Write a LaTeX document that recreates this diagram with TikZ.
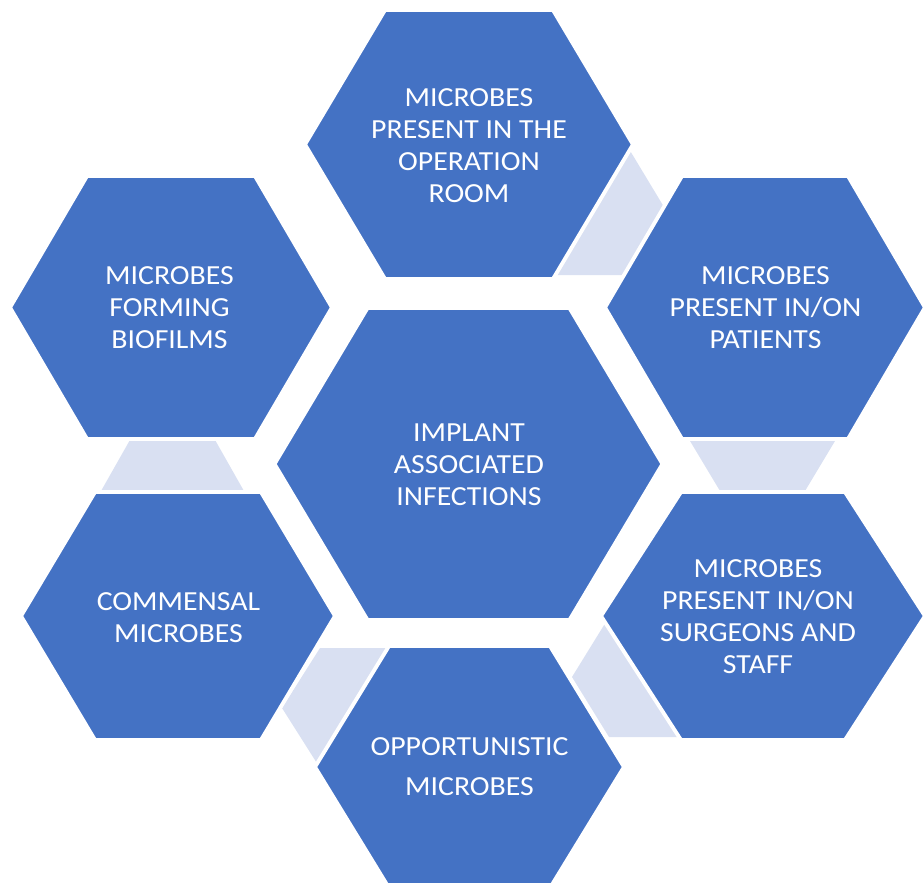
\documentclass[tikz,border=0pt]{standalone}
\usepackage{fontspec}
\setmainfont{Carlito}[FakeStretch=1.08]
\usepackage{xcolor}
\usepackage{tikz}

\definecolor{hexblue}{HTML}{4472C4}
\definecolor{hexpale}{HTML}{D9E0F2}

% flat-topped hexagon: style, cx, cy, half width, half height, inset
\newcommand{\hexa}[6]{%
  \path[#1] ({#2-#4},#3) -- ({#2-#4+#6},{#3-#5}) -- ({#2+#4-#6},{#3-#5})
    -- ({#2+#4},#3) -- ({#2+#4-#6},{#3+#5}) -- ({#2-#4+#6},{#3+#5}) -- cycle;}

\begin{document}
\begin{tikzpicture}[x=0.02cm,y=-0.02cm,
  bighex/.style={fill=hexblue,draw=white,line width=2.2pt,line join=miter},
  palehex/.style={fill=hexpale},
  lbl/.style={text=white,align=center,font=\fontsize{15.7}{18.2}\selectfont}]
\useasboundingbox (0,0) rectangle (924,883);
\clip (0,0) rectangle (924,883);
% pale pieces in the gaps
\hexa{palehex}{578}{207}{86}{68}{41}
\hexa{palehex}{762.5}{431}{78.5}{60}{36}
\hexa{palehex}{172.5}{499}{76}{60}{34}
\hexa{palehex}{368}{708}{86}{60}{38}
\hexa{palehex}{658}{677}{86}{60}{37}
% big hexagons
\hexa{bighex}{468.5}{464}{194}{156}{93}
\hexa{bighex}{469}{144.5}{164}{134.5}{80}
\hexa{bighex}{171}{307.5}{161}{131.5}{77}
\hexa{bighex}{765}{307.5}{160}{131.5}{77}
\hexa{bighex}{178}{616}{157}{124}{74}
\hexa{bighex}{763}{616}{162}{124}{80}
\hexa{bighex}{469.5}{767}{154.5}{121}{74}
% labels
\node[lbl] (core) at (469,465) {IMPLANT\\ASSOCIATED\\INFECTIONS};
\node[lbl] (room) at (469,146) {MICROBES\\PRESENT IN THE\\OPERATION\\ROOM};
\node[lbl] (biofilm) at (169.5,308) {MICROBES\\FORMING\\BIOFILMS};
\node[lbl] (patients) at (765.5,308) {MICROBES\\PRESENT IN/ON\\PATIENTS};
\node[lbl] (commensal) at (178.5,618) {COMMENSAL\\MICROBES};
\node[lbl] (staff) at (758,617) {MICROBES\\PRESENT IN/ON\\SURGEONS AND\\STAFF};
\node[lbl] (opport) at (469.5,767) {OPPORTUNISTIC\\[4.5pt]MICROBES};
\end{tikzpicture}
\end{document}
